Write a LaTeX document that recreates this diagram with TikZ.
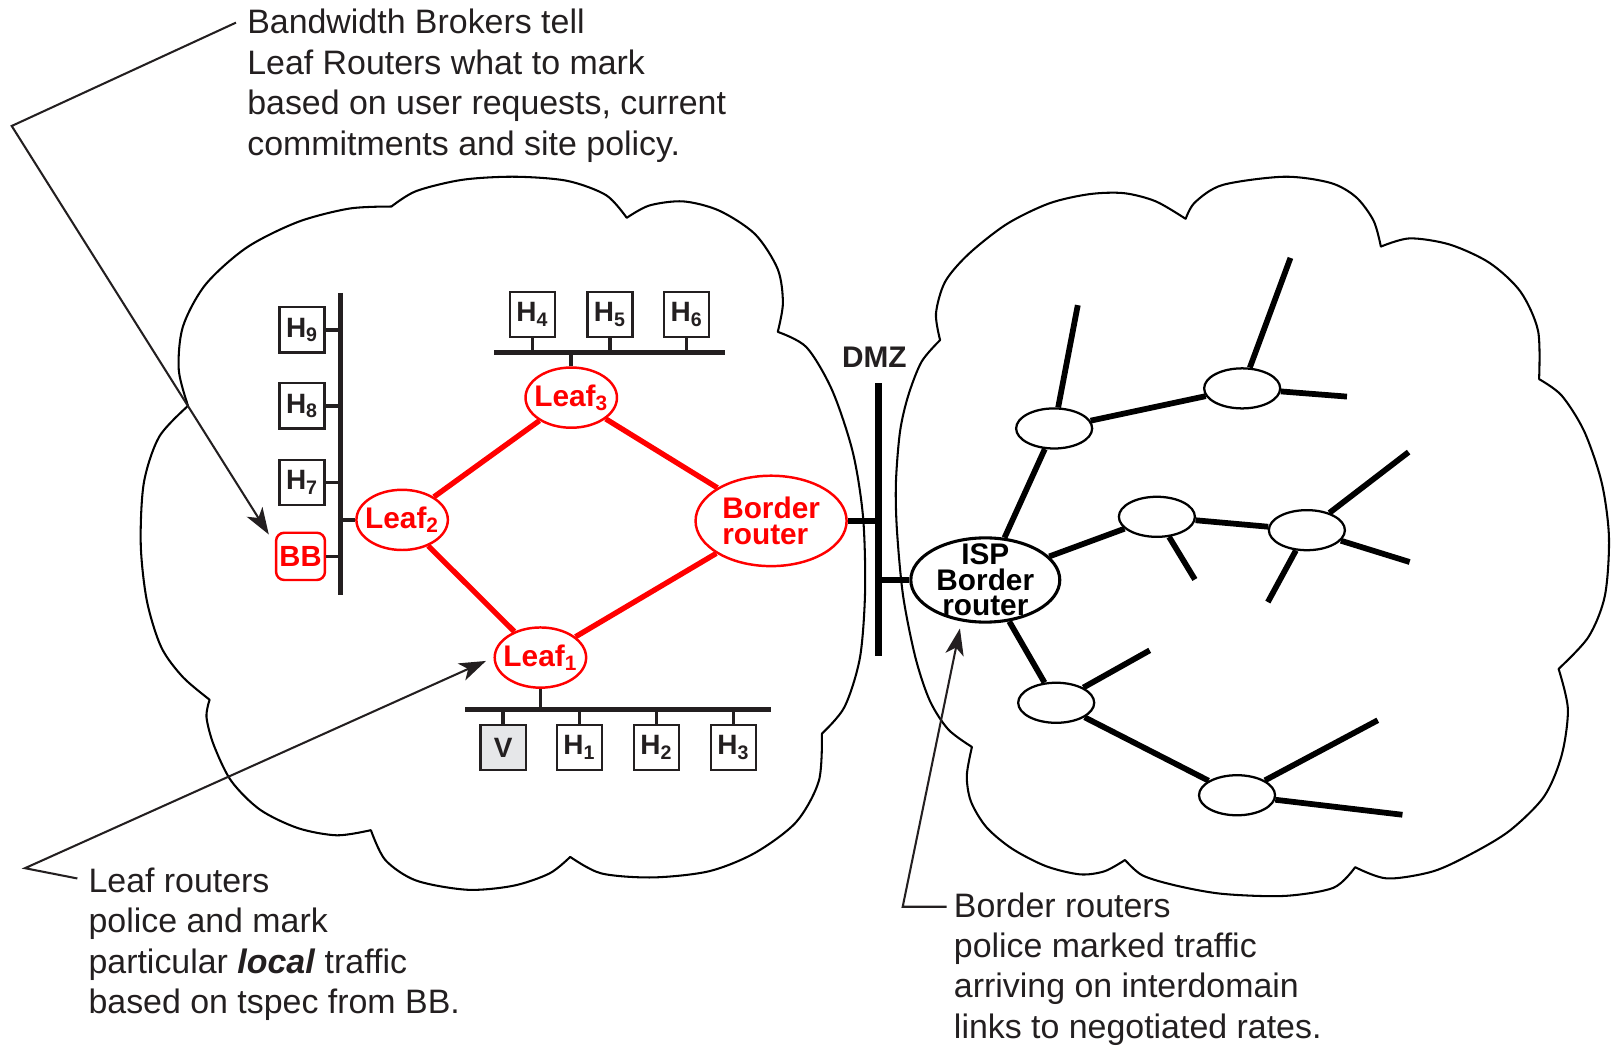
\documentclass[tikz,border=0pt]{standalone}
\usepackage{fontspec}
\setmainfont{Liberation Sans}
\usepackage{tikz}
\usetikzlibrary{shapes.geometric}
\usetikzlibrary{arrows.meta}
\usepackage{xcolor}
\definecolor{ink}{RGB}{35,31,32}
\definecolor{vgray}{RGB}{230,231,233}

\begin{document}
\begin{tikzpicture}[x=0.5pt, y=-0.5pt]
        % ================= 样式定义 =================
        \tikzset{
            host/.style={rectangle, draw=ink, line width=1.2pt, fill=white, minimum size=22pt, inner sep=0pt, text=ink, font=\fontsize{13.6}{15}\selectfont\bfseries},
            vhost/.style={host, fill=vgray},
            bbnode/.style={rectangle, rounded corners=4pt, draw=red, line width=1.2pt, fill=white, minimum width=23.8pt, minimum height=23pt, inner sep=0pt, text=red, font=\fontsize{14.2}{15}\selectfont\bfseries},
            leaf/.style={ellipse, draw=red, line width=1.2pt, fill=white, minimum width=44.5pt, minimum height=29.3pt, inner sep=0pt, text=red, font=\fontsize{14.5}{12.5}\selectfont\bfseries},
            brouter/.style={leaf, minimum width=73.5pt, minimum height=44pt, align=left},
            isp/.style={ellipse, draw=black, line width=1.5pt, fill=white, minimum width=72.5pt, minimum height=41pt, inner xsep=0pt, inner ysep=-5pt, align=center, font=\fontsize{14.5}{12.5}\selectfont\bfseries},
            tnode/.style={ellipse, draw=black, line width=1.1pt, fill=white, minimum width=37pt, minimum height=19.5pt, inner sep=0pt},
            link/.style={red, line width=2.6pt},
            tline/.style={black, line width=2.8pt},
            bus/.style={ink, line width=2.2pt},
            stub/.style={ink, line width=1.8pt},
            dmzbar/.style={black, line width=3pt},
            cloudline/.style={black, line width=1pt, line join=round, line cap=round},
            leader/.style={ink, line width=1pt, -{Stealth[length=13pt, width=9pt, inset=3.5pt]}},
            note/.style={align=left, inner sep=0pt, text=ink, font=\fontsize{16.5}{19.65}\selectfont}
        }
        \useasboundingbox (0,0) rectangle (1568,1025);

        % ================= 左云:本地域 =================
        \draw[cloudline]
            plot[smooth] coordinates {(183,395) (174,360) (178,318) (200,277) (240,241) (290,216) (340,203) (381,201)}
            plot[smooth] coordinates {(381,201) (405,186) (450,175) (501,172) (552,176) (590,190) (610,212)}
            plot[smooth] coordinates {(610,212) (632,200) (665,196) (700,205) (735,228) (757,262) (762,295) (757,323)}
            plot[smooth] coordinates {(757,323) (785,338) (810,380) (830,440) (840,503) (842,575) (837,640) (822,688) (800,714)}
            plot[smooth] coordinates {(800,714) (797,760) (775,800) (735,830) (690,848) (635,854) (585,850) (555,834)}
            plot[smooth] coordinates {(555,834) (535,850) (500,862) (455,866) (405,857) (375,837) (361,808)}
            plot[smooth] coordinates {(361,808) (328,813) (290,806) (253,788) (225,760) (208,725) (201,698) (204,681)}
            plot[smooth] coordinates {(204,681) (178,659) (157,630) (143,585) (137,530) (140,470) (155,425) (183,395)};

        % ================= 右云:ISP =================
        \draw[cloudline]
            plot[smooth] coordinates {(915,331) (897,352) (884,385) (876,420) (872,470) (873,516) (879,580) (891,640) (905,682) (923,710) (946,727)}
            plot[smooth] coordinates {(915,331) (911,305) (920,274) (943,247) (980,218) (1021,198) (1060,189) (1094,188) (1125,196) (1154,213)}
            plot[smooth] coordinates {(1154,213) (1163,197) (1190,180) (1250,172) (1295,178) (1320,192) (1337,215) (1344,240)}
            plot[smooth] coordinates {(1344,240) (1372,232) (1411,238) (1450,256) (1480,284) (1497,322) (1498,369)}
            plot[smooth] coordinates {(1498,369) (1520,385) (1542,420) (1559,470) (1566,523) (1562,580) (1546,620) (1517,651)}
            plot[smooth] coordinates {(1517,651) (1526,690) (1520,735) (1503,775) (1470,808) (1434,830) (1395,848) (1350,855) (1319,844)}
            plot[smooth] coordinates {(1319,844) (1298,864) (1250,872) (1190,870) (1145,862) (1112,852) (1095,837)}
            plot[smooth] coordinates {(1095,837) (1075,848) (1051,851) (1018,843) (985,826) (960,805) (945,780) (941,755) (946,727)};

        % ================= 主机与 BB =================
        \node[host] (h9) at (294,321) {H\textsubscript{9}};
        \node[host] (h8) at (294,395) {H\textsubscript{8}};
        \node[host] (h7) at (294,469.5) {H\textsubscript{7}};
        \node[bbnode] (bb) at (292.5,541.5) {BB};
        \node[host] (h4) at (518.3,306) {H\textsubscript{4}};
        \node[host] (h5) at (593.6,306) {H\textsubscript{5}};
        \node[host] (h6) at (668.3,306) {H\textsubscript{6}};
        \node[vhost] (v) at (489.8,727.5) {V};
        \node[host] (h1) at (564,727.5) {H\textsubscript{1}};
        \node[host] (h2) at (639,727.5) {H\textsubscript{2}};
        \node[host] (h3) at (713.8,727.5) {H\textsubscript{3}};

        % ================= 路由器 =================
        \node[leaf] (leaf3) at (556,387) {\makebox[0pt]{Leaf\textsubscript{3}}};
        \node[leaf] (leaf2) at (391.4,506) {\makebox[0pt]{Leaf\textsubscript{2}}};
        \node[leaf] (leaf1) at (526,640) {\makebox[0pt]{Leaf\textsubscript{1}}};
        \node[brouter] (brouter) at (750.5,507) {Border\\router};
        \node[isp] (isp) at (959,564.5) {ISP\\Border\\router};
        \node[font=\fontsize{14.5}{16}\selectfont\bfseries, text=ink] (dmz) at (851,348) {DMZ};

        % ISP 内部的树
        \node[tnode] (t1) at (1026,417) {};
        \node[tnode] (t2) at (1209,378) {};
        \node[tnode] (t3) at (1126,503) {};
        \node[tnode] (t4) at (1272,516) {};
        \node[tnode] (t5) at (1028,684) {};
        \node[tnode] (t6) at (1204,774) {};

        % ================= 总线 =================
        \coordinate (busl1) at (331.6,285);
        \coordinate (busl2) at (331.6,579);
        \coordinate (bust1) at (481,343);
        \coordinate (bust2) at (706,343);
        \coordinate (busb1) at (452.6,690.4);
        \coordinate (busb2) at (750.4,690.4);
        \coordinate (dmzt) at (855,373);
        \coordinate (dmzb) at (855,638);

        \draw[bus] (busl1) -- (busl2);
        \draw[bus] (bust1) -- (bust2);
        \draw[bus] (busb1) -- (busb2);
        \draw[dmzbar] (dmzt) -- (dmzb);

        \draw[stub] (h9.east) -- (h9 -| busl1);
        \draw[stub] (h8.east) -- (h8 -| busl1);
        \draw[stub] (h7.east) -- (h7 -| busl1);
        \draw[stub] (bb.east) -- (bb -| busl1);
        \draw[stub] (leaf2.west) -- (leaf2 -| busl1);
        \draw[stub] (h4.south) -- (h4 |- bust1);
        \draw[stub] (h5.south) -- (h5 |- bust1);
        \draw[stub] (h6.south) -- (h6 |- bust1);
        \draw[stub] (leaf3.north) -- (leaf3 |- bust1);
        \draw[stub] (v.north) -- (v |- busb1);
        \draw[stub] (h1.north) -- (h1 |- busb1);
        \draw[stub] (h2.north) -- (h2 |- busb1);
        \draw[stub] (h3.north) -- (h3 |- busb1);
        \draw[stub] (leaf1.south) -- (leaf1 |- busb1);
        \draw[dmzbar] (brouter) -- (brouter -| dmzt);
        \draw[dmzbar] (isp) -- (isp -| dmzt);

        % ================= 红色链路 =================
        \draw[link] (leaf2) -- (leaf3);
        \draw[link] (leaf3) -- (brouter);
        \draw[link] (leaf2) -- (leaf1);
        \draw[link] (leaf1) -- (brouter);

        % ================= 树的边 =================
        \coordinate (e1) at (1049,297);
        \coordinate (e2) at (1256,251);
        \coordinate (e3) at (1311,386);
        \coordinate (e4) at (1163,564);
        \coordinate (e5) at (1371,440);
        \coordinate (e6) at (1372,547);
        \coordinate (e7) at (1234,586);
        \coordinate (e8) at (1119,633);
        \coordinate (e9) at (1341,701);
        \coordinate (e10) at (1365,793);

        \draw[tline] (isp) -- (t1);
        \draw[tline] (isp) -- (t3);
        \draw[tline] (isp) -- (t5);
        \draw[tline] (t1) -- (t2);
        \draw[tline] (t3) -- (t4);
        \draw[tline] (t5) -- (t6);
        \draw[tline] (t1) -- (e1);
        \draw[tline] (t2) -- (e2);
        \draw[tline] (t2) -- (e3);
        \draw[tline] (t3) -- (e4);
        \draw[tline] (t4) -- (e5);
        \draw[tline] (t4) -- (e6);
        \draw[tline] (t4) -- (e7);
        \draw[tline] (t5) -- (e8);
        \draw[tline] (t6) -- (e9);
        \draw[tline] (t6) -- (e10);

        % ================= 注释 =================
        \node[note, anchor=north west] (bbnote) at (240.3,8.7) {Bandwidth Brokers tell\\Leaf Routers what to mark\\based on user requests, current\\commitments and site policy.};
        \node[note, anchor=north west] (leafnote) at (85.8,844.2) {Leaf routers\\police and mark\\particular \textbf{\textit{local}} traffic\\based on tspec from BB.};
        \node[note, anchor=north west] (bordernote) at (928.1,868.4) {Border routers\\police marked traffic\\arriving on interdomain\\links to negotiated rates.};

        \coordinate (bbs) at (229.7,22);
        \coordinate (bbk) at (11.4,122.6);
        \coordinate (lfs) at (75.3,855);
        \coordinate (lfk) at (24.3,845);
        \coordinate (brs) at (921.4,882.5);
        \coordinate (brk) at (878.6,882.5);

        \draw[leader, shorten >=5.5pt] (bbs) -- (bbk) -- ([yshift=6pt]bb.west);
        \draw[leader, shorten >=4pt] (lfs) -- (lfk) -- (leaf1.west);
        \draw[leader, shorten >=3.5pt] (brs) -- (brk) -- (isp.240);

    \end{tikzpicture}
\end{document}
